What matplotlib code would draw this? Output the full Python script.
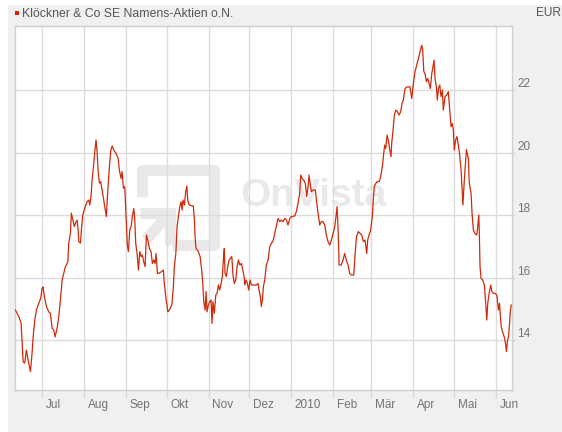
import matplotlib
matplotlib.use('Agg')
import matplotlib.pyplot as plt
import matplotlib.transforms as mtransforms
from matplotlib.patches import Rectangle
from matplotlib.lines import Line2D
import pandas as pd

# ---------------- data ----------------
start_date = '2009-06-11'
day_offsets = [
    0.3, 2.8, 4.5, 5.2, 6.0, 7.2, 8.4, 9.7, 11.4, 12.6,
    13.4, 14.6, 15.8, 17.6, 19.0, 20.0, 20.7, 21.7, 23.2, 24.9,
    26.1, 27.4, 28.6, 29.6, 31.1, 32.3, 33.5, 34.8, 36.0, 37.2,
    39.0, 39.7, 40.9, 41.6, 42.7, 43.8, 44.6, 45.8, 46.6, 47.1,
    48.3, 49.0, 50.0, 51.5, 53.2, 54.5, 55.2, 56.2, 56.9, 57.9,
    58.9, 59.8, 60.6, 61.3, 62.3, 63.3, 64.3, 65.5, 66.7, 67.4,
    68.5, 69.7, 70.7, 71.7, 72.9, 74.6, 76.1, 77.0, 78.3, 79.0,
    80.0, 81.0, 82.0, 82.9, 83.7, 84.7, 85.7, 86.6, 87.7, 88.4,
    89.1, 90.1, 91.1, 92.1, 93.1, 94.0, 95.0, 96.0, 97.0, 98.0,
    99.2, 100.4, 101.4, 102.4, 103.4, 104.1, 105.1, 105.8, 108.3, 109.5,
    110.2, 111.3, 112.8, 113.9, 115.7, 116.9, 117.6, 118.7, 119.6, 120.6,
    121.6, 122.6, 123.3, 124.0, 125.0, 126.0, 126.8, 127.5, 128.5, 131.6,
    132.4, 132.9, 133.6, 135.3, 136.6, 137.8, 138.6, 139.3, 140.3, 141.0,
    141.7, 142.7, 143.7, 144.7, 145.4, 146.1, 147.1, 148.2, 149.1, 150.1,
    151.1, 152.1, 153.0, 154.1, 154.5, 155.0, 156.0, 157.0, 158.0, 158.9,
    160.0, 160.9, 161.9, 162.9, 163.9, 164.9, 165.9, 167.1, 168.1, 169.1,
    169.6, 170.5, 171.5, 172.5, 173.5, 174.5, 176.5, 178.1, 179.4, 180.1,
    181.1, 181.8, 182.6, 183.3, 184.3, 185.5, 186.8, 188.0, 189.2, 190.5,
    191.7, 192.9, 194.1, 195.4, 196.6, 197.8, 199.1, 200.3, 201.5, 202.8,
    204.0, 206.5, 207.6, 208.9, 210.1, 210.9, 211.9, 213.1, 214.3, 215.3,
    216.3, 217.0, 217.8, 218.7, 220.0, 221.7, 222.7, 223.7, 224.9, 226.1,
    227.4, 228.6, 229.8, 231.0, 232.3, 233.5, 234.7, 236.0, 236.9, 237.7,
    238.4, 239.2, 240.8, 242.1, 243.3, 244.5, 245.8, 247.0, 248.2, 250.0,
    250.7, 252.0, 253.4, 254.7, 255.9, 257.1, 258.3, 259.6, 260.3, 261.3,
    262.5, 263.7, 264.5, 265.2, 266.2, 267.4, 268.7, 269.6, 270.7, 271.4,
    272.1, 272.9, 273.6, 274.6, 275.5, 276.6, 277.5, 278.0, 279.0, 280.0,
    281.0, 282.2, 283.4, 284.7, 285.6, 286.6, 287.9, 289.1, 290.3, 291.5,
    292.8, 294.0, 295.2, 296.5, 297.7, 298.9, 300.2, 300.9, 301.7, 302.6,
    303.6, 304.6, 305.6, 306.5, 307.6, 308.5, 309.3, 310.0, 311.0, 311.7,
    312.5, 313.5, 314.4, 315.4, 316.1, 317.4, 318.6, 319.8, 320.8, 321.8,
    322.8, 323.5, 324.2, 325.2, 326.2, 327.2, 328.2, 329.2, 329.9, 330.6,
    331.4, 332.1, 333.2, 334.6, 335.3, 336.6, 337.3, 338.3, 339.5, 340.8,
    341.5, 342.3, 342.7, 343.2, 344.0, 345.2, 346.4, 347.4, 348.2, 348.9,
    349.9, 351.1, 351.9, 353.1, 354.4, 355.6, 356.3, 356.8, 357.6, 358.1,
    358.8, 359.8, 361.0, 362.0, 362.7, 363.5, 364.2, 365.0, 365.5, 366.2,
]
prices = [
    14.96, 14.75, 14.54, 13.95, 13.3, 13.26, 13.68, 13.36, 12.99, 13.58,
    14.1, 14.64, 14.96, 15.18, 15.34, 15.66, 15.7, 15.39, 15.07, 14.9,
    14.85, 14.38, 14.32, 14.1, 14.38, 14.75, 15.28, 15.92, 16.14, 16.35,
    16.5, 17.1, 17.42, 18.06, 17.84, 17.63, 17.74, 17.84, 17.52, 17.15,
    17.1, 17.52, 18.0, 18.22, 18.43, 18.48, 18.32, 18.64, 19.12, 19.55,
    20.03, 20.4, 20.03, 19.44, 19.02, 19.07, 18.8, 18.48, 18.16, 17.95,
    18.8, 19.55, 20.08, 20.21, 20.08, 19.97, 19.81, 19.44, 19.17, 19.39,
    18.86, 18.91, 17.95, 17.04, 16.83, 17.52, 17.63, 17.95, 18.21, 17.84,
    17.09, 16.77, 16.24, 16.83, 16.67, 16.72, 16.5, 16.35, 17.36, 17.2,
    16.93, 16.83, 16.45, 16.56, 16.45, 16.77, 16.13, 16.13, 16.19, 16.24,
    15.81, 15.39, 14.9, 14.96, 15.12, 15.7, 16.35, 16.77, 17.63, 17.95,
    18.27, 18.43, 18.16, 18.48, 18.32, 18.75, 18.93, 18.48, 18.32, 18.29,
    17.84, 17.31, 16.93, 16.83, 16.67, 16.24, 15.81, 15.23, 14.96, 15.55,
    14.9, 15.12, 15.23, 15.28, 14.53, 15.23, 14.85, 15.44, 15.49, 15.76,
    15.6, 15.81, 16.03, 16.77, 16.93, 16.13, 16.03, 16.35, 16.56, 16.61,
    16.67, 16.08, 15.81, 15.92, 16.35, 16.56, 16.4, 16.45, 16.24, 16.03,
    15.76, 15.92, 15.81, 15.6, 15.92, 15.76, 15.76, 15.76, 15.81, 15.6,
    15.39, 15.07, 15.28, 15.7, 15.92, 16.4, 16.56, 16.99, 17.09, 17.18,
    17.41, 17.65, 17.89, 17.79, 17.84, 17.79, 17.89, 17.84, 17.68, 17.89,
    17.95, 17.97, 18.11, 18.37, 18.69, 19.28, 19.17, 19.12, 19.01, 18.59,
    18.91, 19.28, 19.01, 18.75, 18.8, 18.8, 18.37, 18.05, 17.68, 17.79,
    17.79, 17.68, 17.36, 17.15, 17.04, 17.2, 17.41, 17.63, 17.95, 18.27,
    17.63, 16.4, 16.4, 16.56, 16.77, 16.56, 16.4, 16.13, 16.08, 16.08,
    16.56, 17.31, 17.47, 17.41, 17.36, 17.15, 17.2, 16.77, 17.2, 17.36,
    17.52, 17.95, 18.53, 18.91, 19.01, 19.07, 19.07, 19.17, 19.44, 19.65,
    19.97, 20.24, 20.13, 20.56, 20.4, 20.08, 19.87, 20.29, 20.72, 21.2,
    21.36, 21.31, 21.2, 21.31, 21.57, 21.68, 22.05, 22.1, 22.1, 22.1,
    21.73, 22.21, 22.59, 22.8, 23.01, 23.23, 23.44, 23.28, 22.59, 22.53,
    22.27, 22.37, 22.21, 22.05, 22.53, 22.75, 22.96, 22.37, 22.1, 21.68,
    22.05, 22.16, 21.79, 22.0, 21.36, 21.79, 21.84, 21.95, 21.41, 20.83,
    20.93, 20.72, 20.08, 20.4, 20.51, 20.24, 19.92, 19.44, 18.91, 18.32,
    18.96, 19.44, 20.1, 19.8, 19.01, 18.69, 18.05, 17.52, 17.41, 17.36,
    17.63, 18.0, 17.41, 16.35, 15.97, 15.92, 15.76, 15.17, 14.64, 15.17,
    15.49, 15.76, 15.55, 15.49, 15.49, 15.44, 15.17, 14.96, 15.17, 14.85,
    14.43, 14.27, 14.11, 13.89, 13.63, 14.0, 14.11, 14.53, 14.9, 15.12,
]
month_ticks = ['2009-07-01', '2009-08-01', '2009-09-01', '2009-10-01',
               '2009-11-01', '2009-12-01', '2010-01-01', '2010-02-01',
               '2010-03-01', '2010-04-01', '2010-05-01', '2010-06-01']
month_labels = ['Jul', 'Aug', 'Sep', 'Okt', 'Nov', 'Dez', '2010', 'Feb',
                'Mär', 'Apr', 'Mai', 'Jun']
y_ticks = [14, 16, 18, 20, 22]
title = 'Klöckner & Co SE Namens-Aktien o.N.'
currency = 'EUR'
watermark = 'OnVista'

# ---------------- figure ----------------
FONT = 'Liberation Sans'
W, H = 562, 432
fig = plt.figure(figsize=(W / 100, H / 100), dpi=100, facecolor='white')
# gray panel (behind the axes)
fig.patches.append(Rectangle((8 / W, 0), 1 - 8 / W, 1 - 5 / H,
                             transform=fig.transFigure, facecolor='#f0f0f0',
                             edgecolor='none', zorder=-5))

ax = fig.add_axes([15 / W, 42 / H, 497 / W, 364 / H])
ax.set_zorder(1)
ax.set_facecolor('white')

t0 = pd.Timestamp(start_date)
dates = t0 + pd.to_timedelta(day_offsets, unit='D')

# pixel transform (top-left origin)
px = mtransforms.Affine2D().scale(1 / W, -1 / H).translate(0, 1) + fig.transFigure

# watermark logo
wm_col = '#e9e9e9'
ax.add_line(Line2D([142, 142, 214, 214, 172], [197, 170, 170, 245, 245],
                   transform=px, color=wm_col, lw=8, solid_joinstyle='round',
                   solid_capstyle='butt', zorder=0.2))
ax.add_line(Line2D([140, 170, 170], [213, 213, 245], transform=px,
                   color=wm_col, lw=8, solid_joinstyle='miter',
                   solid_capstyle='butt', zorder=0.2))
ax.add_line(Line2D([168, 146], [215, 240], transform=px, color=wm_col,
                   lw=8, solid_capstyle='butt', zorder=0.2))
ax.text(240, 206, watermark, transform=px, fontsize=28, fontweight='bold',
        color=wm_col, family=FONT, ha='left', va='baseline', zorder=0.2)

ax.plot(dates, prices, color='#d02a0a', lw=0.9, zorder=3)

ax.set_xlim(t0, t0 + pd.Timedelta(days=366.8))
ax.set_ylim(12.4, 24.05)

ax.set_axisbelow(True)
ax.grid(True, color='#dcdcdc', lw=1.0)

for s in ax.spines.values():
    s.set_color('#cfcfcf')
    s.set_linewidth(1.0)

ax.set_xticks(pd.to_datetime(month_ticks))
ax.set_xticklabels(month_labels)
ax.tick_params(axis='x', direction='out', length=5.8, width=1.0,
               color='#d8d8d8', pad=0.5, labelsize=8.5, labelcolor='#737373')
offset = mtransforms.ScaledTranslation(3.5 / 100, 0, fig.dpi_scale_trans)
for lab in ax.get_xticklabels():
    lab.set_ha('left')
    lab.set_family(FONT)
    lab.set_transform(lab.get_transform() + offset)

ax.yaxis.tick_right()
ax.set_yticks(y_ticks)
ax.set_yticklabels([str(v) for v in y_ticks])
ax.tick_params(axis='y', direction='out', length=2.2, width=1.0,
               color='#d8d8d8', pad=1.5, labelsize=8.5, labelcolor='#737373')
for lab in ax.get_yticklabels():
    lab.set_va('bottom')
    lab.set_family(FONT)

# title and currency
fig.patches.append(Rectangle((14.5 / W, 1 - 15 / H), 4 / W, 4 / H,
                             transform=fig.transFigure, facecolor='#cc2200',
                             edgecolor='none'))
fig.text(22 / W, 1 - 17 / H, title, ha='left', va='baseline', fontsize=8.8,
         color='#555555', family=FONT)
fig.text(561 / W, 1 - 16.5 / H, currency, ha='right', va='baseline',
         fontsize=8.6, color='#555555', family=FONT)

fig.savefig('out.png', dpi=100, facecolor=fig.get_facecolor())
